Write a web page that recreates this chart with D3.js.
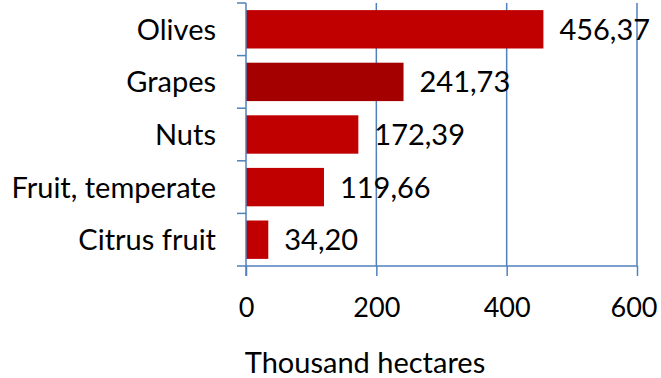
<!DOCTYPE html>
<html>
<head>
<meta charset="utf-8">
<script src="https://cdn.jsdelivr.net/npm/d3@7"></script>
<style>
  html, body { margin: 0; padding: 0; background: #fff; }
  svg { display: block; }
  text { font-family: Lato, "Open Sans", sans-serif; fill: #000; }
</style>
</head>
<body>
<svg id="chart" width="661" height="378"></svg>
<script>
// Crop area by type, thousand hectares
const categories = ["Olives", "Grapes", "Nuts", "Fruit, temperate", "Citrus fruit"];
const values = [456.37, 241.73, 172.39, 119.66, 34.20];
const barColors = ["#C00000", "#A50000", "#C00000", "#C00000", "#C00000"];
const xTicks = [0, 200, 400, 600];
const xTitle = "Thousand hectares";

const svg = d3.select("#chart");
const W = 661;
const axisColor = "#4F81BD";
const fontSize = 29;
const tickFontSize = 27;

const x = d3.scaleLinear().domain([0, 600]).range([246, 637]);
const y = d3.scaleBand()
  .domain(categories)
  .range([3, 266])
  .paddingInner(0.27)
  .paddingOuter(0.135);

const rows = categories.map((c, i) => ({ cat: c, val: values[i], color: barColors[i] }));

// vertical gridlines at each major tick (excluding the axis at zero)
svg.append("g")
  .selectAll("line")
  .data(xTicks.filter(t => t !== 0))
  .join("line")
  .attr("x1", d => x(d)).attr("x2", d => x(d))
  .attr("y1", 3).attr("y2", 266)
  .attr("stroke", axisColor).attr("stroke-width", 1.5);

// bars
svg.append("g")
  .selectAll("rect")
  .data(rows)
  .join("rect")
  .attr("x", x(0))
  .attr("y", d => y(d.cat))
  .attr("width", d => x(d.val) - x(0))
  .attr("height", y.bandwidth())
  .attr("fill", d => d.color);

// bottom axis
const xAxis = d3.axisBottom(x)
  .tickValues(xTicks)
  .tickSize(10)
  .tickPadding(22)
  .tickFormat(d3.format("d"));
const gx = svg.append("g")
  .attr("transform", "translate(0,266)")
  .call(xAxis);
gx.select(".domain").attr("stroke", axisColor).attr("stroke-width", 1.5)
  .attr("d", `M${x(0)},0H${x(600)}`);
gx.selectAll(".tick line").attr("stroke", axisColor).attr("stroke-width", 1.5);
gx.selectAll(".tick text")
  .style("font-family", "Lato, 'Open Sans', sans-serif")
  .style("font-size", tickFontSize + "px")
  .attr("fill", "#000")
  .each(function (d) {
    // keep the outermost label inside the canvas
    const box = this.getBBox();
    const right = x(d) + box.width / 2;
    if (right > W - 4) d3.select(this).attr("dx", (W - 4 - right) + "px");
  });

// left axis: line with ticks between categories
const leftG = svg.append("g");
leftG.append("line")
  .attr("x1", x(0)).attr("x2", x(0))
  .attr("y1", 3).attr("y2", 276)
  .attr("stroke", axisColor).attr("stroke-width", 1.5);
const boundaries = categories.map(c => y(c) - y.step() * y.paddingOuter()).concat([266]);
leftG.selectAll("line.tick")
  .data(boundaries)
  .join("line")
  .attr("class", "tick")
  .attr("x1", x(0) - 9).attr("x2", x(0))
  .attr("y1", d => d).attr("y2", d => d)
  .attr("stroke", axisColor).attr("stroke-width", 1.5);

// category labels
svg.append("g")
  .selectAll("text")
  .data(rows)
  .join("text")
  .attr("x", 216)
  .attr("y", d => y(d.cat) + y.bandwidth() / 2)
  .attr("dy", "0.36em")
  .attr("text-anchor", "end")
  .style("font-size", fontSize + "px")
  .text(d => d.cat);

// value labels
const fmt = v => v.toFixed(2).replace(".", ",");
svg.append("g")
  .selectAll("text")
  .data(rows)
  .join("text")
  .attr("x", d => x(d.val) + 16)
  .attr("y", d => y(d.cat) + y.bandwidth() / 2)
  .attr("dy", "0.36em")
  .style("font-size", fontSize + "px")
  .text(d => fmt(d.val));

// axis title
svg.append("text")
  .attr("x", 365)
  .attr("y", 373)
  .attr("text-anchor", "middle")
  .style("font-size", fontSize + "px")
  .text(xTitle);
</script>
</body>
</html>
